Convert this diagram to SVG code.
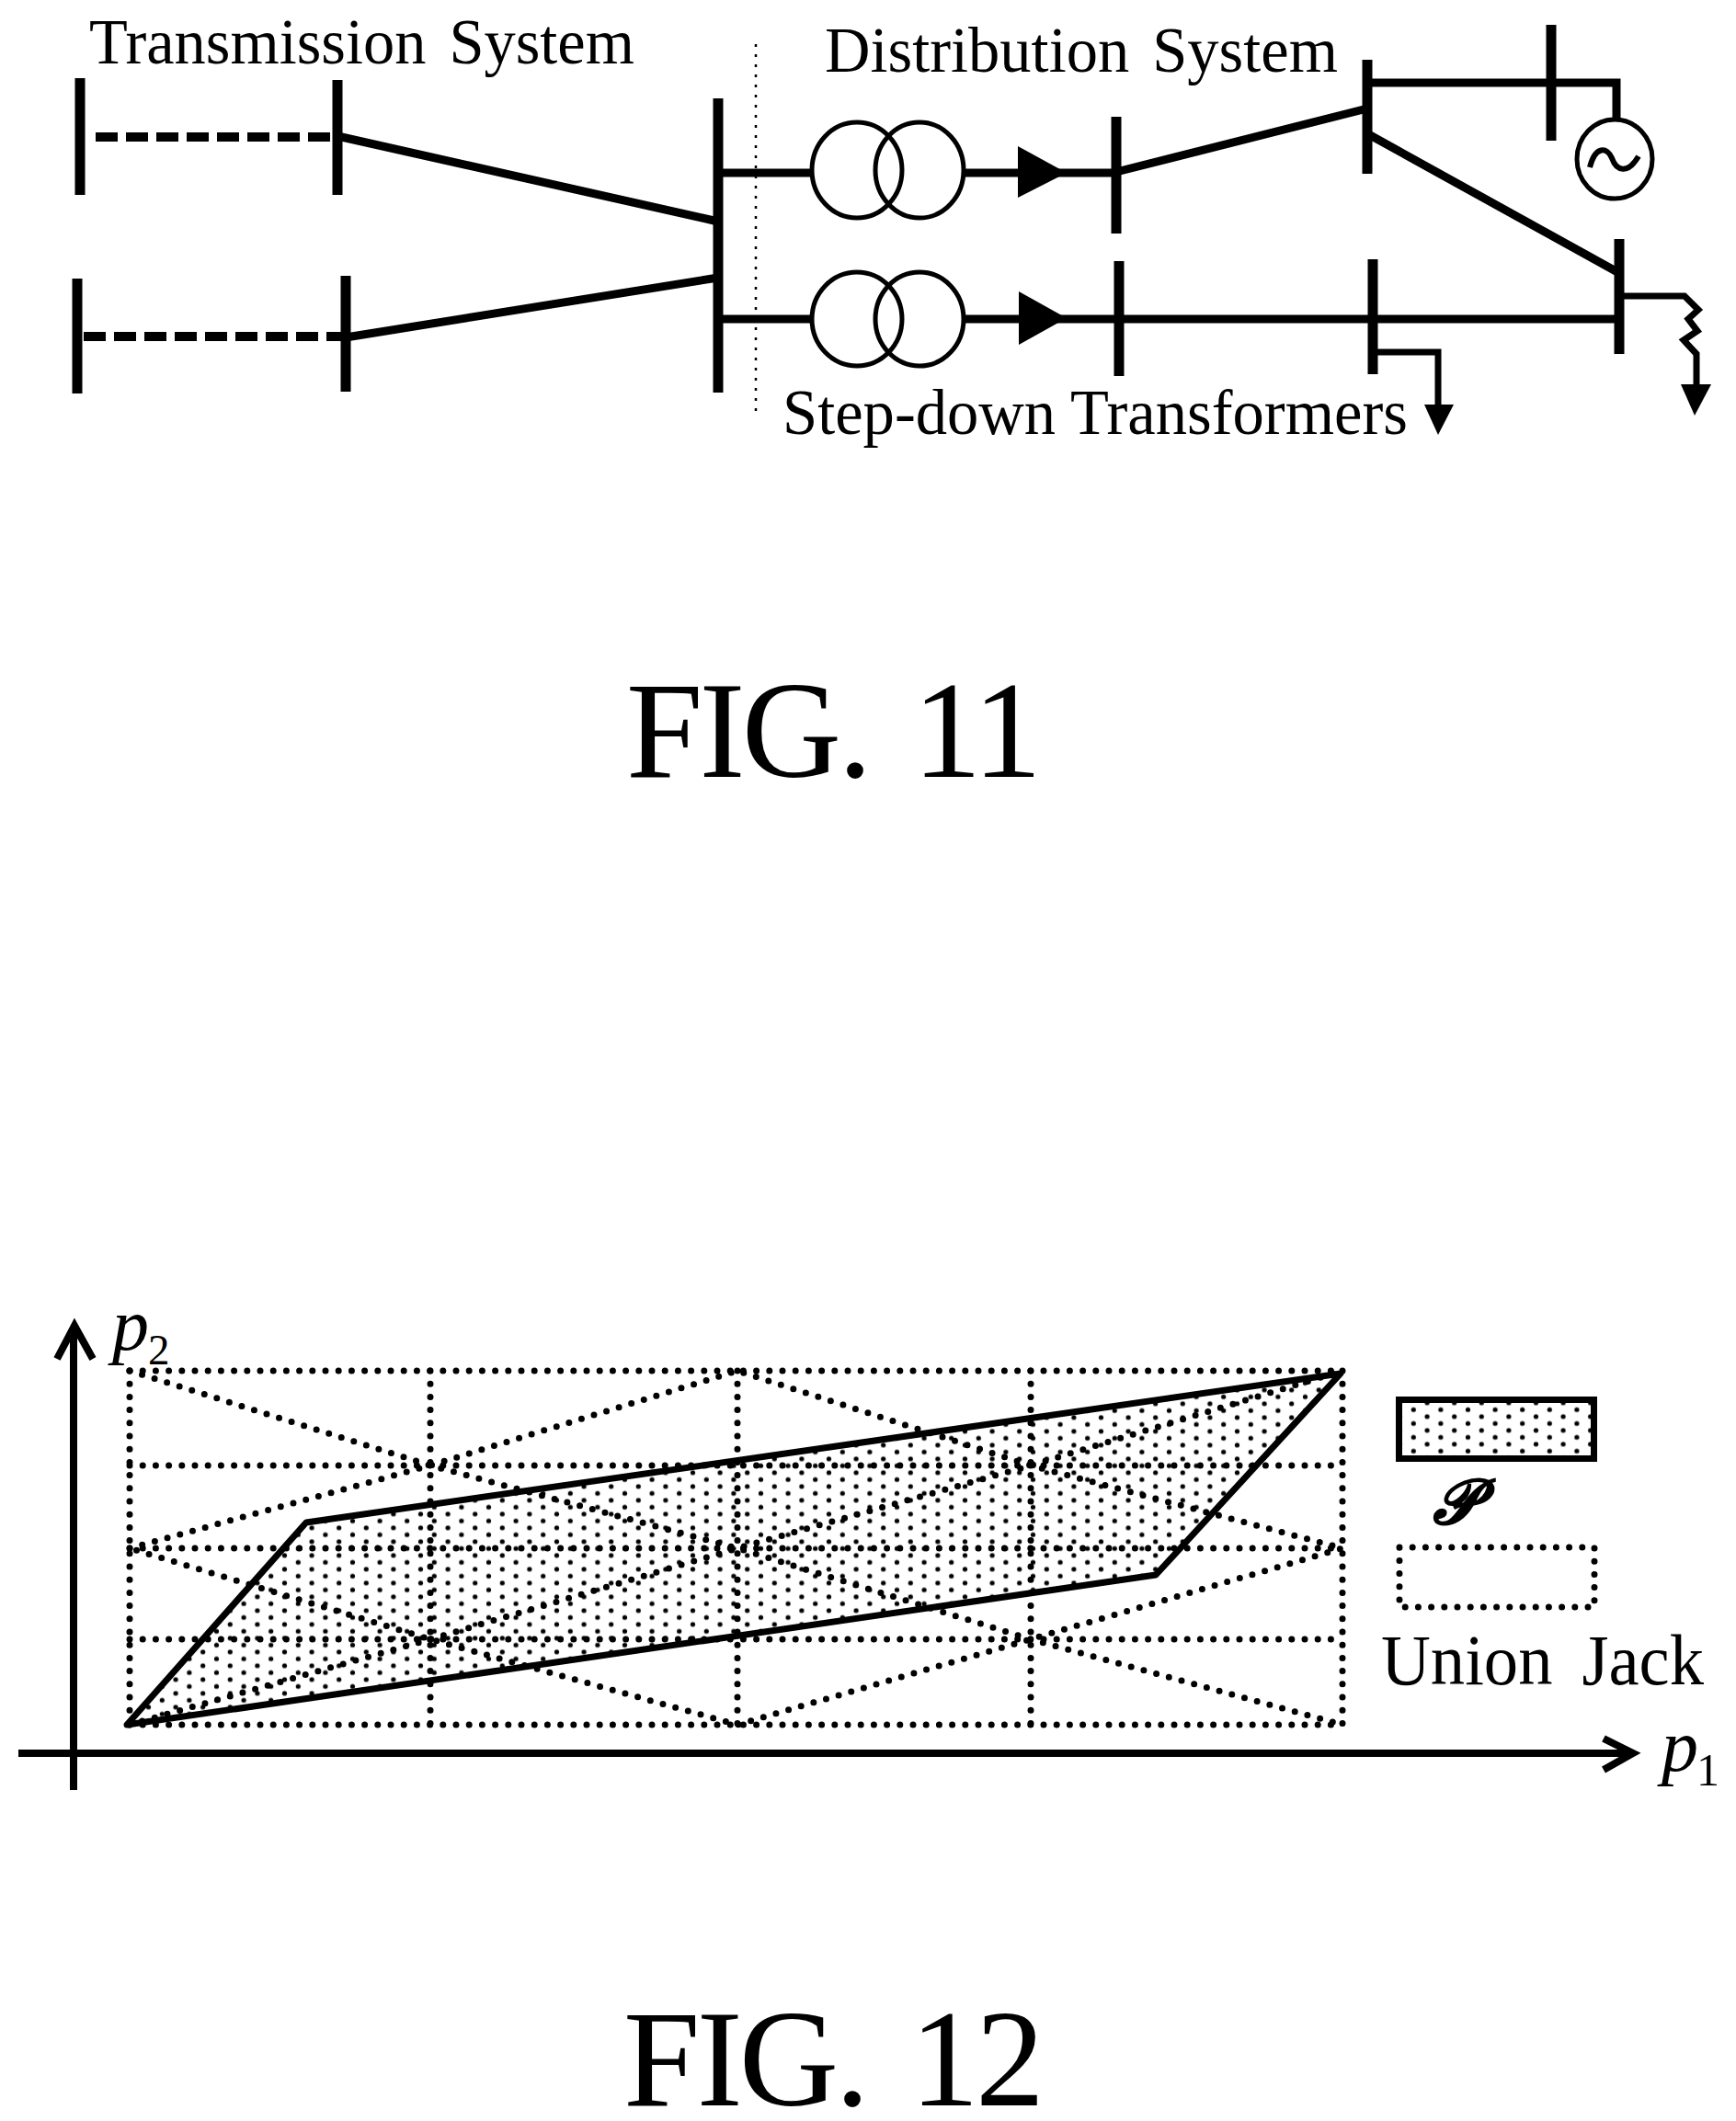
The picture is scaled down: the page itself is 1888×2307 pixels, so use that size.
<svg xmlns="http://www.w3.org/2000/svg" width="1888" height="2307" viewBox="0 0 1888 2307">
<style>
text{fill:#000;font-family:"Liberation Serif","Times New Roman",serif}
.bus{stroke:#000;stroke-width:11;fill:none}
.ln{stroke:#000;stroke-width:9;fill:none}
.wire{stroke:#000;stroke-width:7;fill:none}
.dash{stroke:#000;stroke-width:10;stroke-dasharray:24 9;fill:none}
.coil{stroke:#000;stroke-width:5;fill:none}
.dot{stroke:#000;stroke-width:7;stroke-dasharray:0 14.2;stroke-linecap:round;fill:none}
.axis{stroke:#000;stroke-width:8;fill:none}
.fig{font-size:150px}
.pv{font-size:80px;font-style:italic}
</style>
<defs>
<pattern id="dots" width="29.6" height="15" x="1529.9" y="1529.55" patternUnits="userSpaceOnUse">
<circle cx="7.4" cy="3.75" r="2.6" fill="#000"/>
<circle cx="22.2" cy="11.25" r="2.6" fill="#000"/>
</pattern>
<pattern id="dots-plot" href="#dots" x="1323.3" y="1545.55"/>
</defs>
<rect width="1888" height="2307" fill="#fff"/>

<g id="connectors">
<path class="dash" d="M104 149H367"/>
<path class="dash" d="M91 366H376"/>
<path class="ln" d="M367 148L781 241"/>
<path class="ln" d="M376 367L781 302"/>
<path class="ln" d="M781 188H882M781 347H882"/>
<path class="ln" d="M1048 188H1214M1048 347H1761"/>
<path class="ln" d="M1214 187L1487 118"/>
<path class="ln" d="M1487 90H1758V130"/>
<path class="ln" d="M1490 147L1761 297"/>
<path class="wire" d="M1493 383H1564V445"/>
<path class="wire" d="M1761 322H1832L1847 337L1836 347L1846 360L1831 370L1845 385V422"/>
<path d="M1107 159L1160 188L1107 215Z"/>
<path d="M1108 317L1160 346L1108 375Z"/>
<path d="M1549 440H1581L1564 473Z"/>
<path d="M1828 418H1861L1843 452Z"/>
</g>

<g id="bus-t1"><path class="bus" d="M87 85V212"/></g>
<g id="bus-t2"><path class="bus" d="M367 87V212"/></g>
<g id="bus-t3"><path class="bus" d="M84 303V428"/></g>
<g id="bus-t4"><path class="bus" d="M376 300V426"/></g>
<g id="bus-main"><path class="bus" d="M781 107V427"/></g>
<g id="bus-d1"><path class="bus" d="M1214 127V254"/></g>
<g id="bus-d2"><path class="bus" d="M1217 284V409"/></g>
<g id="bus-d3"><path class="bus" d="M1487 65V189"/></g>
<g id="bus-d4"><path class="bus" d="M1687 27V153"/></g>
<g id="bus-d5"><path class="bus" d="M1493 282V407"/></g>
<g id="bus-d6"><path class="bus" d="M1761 260V385"/></g>

<g id="boundary"><path d="M822 48V453" stroke="#000" stroke-width="2.5" stroke-dasharray="3 8" fill="none"/></g>

<g id="transformer-1"><ellipse class="coil" cx="932" cy="185" rx="49" ry="52"/><ellipse class="coil" cx="1000" cy="185" rx="48" ry="52"/></g>
<g id="transformer-2"><ellipse class="coil" cx="932" cy="347" rx="49" ry="51"/><ellipse class="coil" cx="1000" cy="347" rx="48" ry="51"/></g>

<g id="generator"><ellipse class="coil" cx="1756" cy="173" rx="41" ry="43" fill="#fff"/><path d="M1729 182C1735 158 1748 160 1753 172C1758 186 1770 190 1782 170" fill="none" stroke="#000" stroke-width="6"/></g>

<g id="labels-11">
<text x="97" y="69" font-size="70" word-spacing="8" textLength="593" lengthAdjust="spacingAndGlyphs">Transmission System</text>
<text x="897" y="78" font-size="70" word-spacing="8" textLength="558" lengthAdjust="spacingAndGlyphs">Distribution System</text>
<text x="851" y="472" font-size="70" textLength="680" lengthAdjust="spacingAndGlyphs">Step-down Transformers</text>
<text class="fig" x="681" y="845" word-spacing="14" textLength="452" lengthAdjust="spacing">FIG. 11</text>
</g>

<g id="region-p"><path d="M138 1876L333 1656L1458 1494L1257 1713Z" fill="url(#dots-plot)" stroke="none"/></g>

<g id="union-jack">
<path class="dot" d="M141 1491H1460M141 1594H1460M141 1684H1460M141 1783H1460M141 1876H1460"/>
<path class="dot" d="M141 1491V1876M468 1491V1876M802 1491V1876M1121 1491V1876M1460 1491V1876"/>
<path class="dot" d="M141 1491L468 1594L802 1684L1121 1783L1460 1876"/>
<path class="dot" d="M141 1876L468 1783L802 1684L1121 1594L1460 1491"/>
<path class="dot" d="M141 1684L468 1594L802 1491L1121 1594L1460 1684L1121 1783L802 1876L468 1783Z"/>
</g>

<g id="region-p-outline"><path d="M138 1876L333 1656L1458 1494L1257 1713Z" fill="none" stroke="#000" stroke-width="7" stroke-linejoin="round"/></g>

<g id="axes">
<path class="axis" d="M80 1947V1444"/>
<path class="axis" d="M62 1478L81 1442L101 1478"/>
<path class="axis" d="M20 1907H1774"/>
<path class="axis" d="M1744 1891L1776 1907L1744 1925"/>
<text class="pv" x="122" y="1468">p</text><text x="161" y="1484" font-size="47">2</text>
<text class="pv" x="1807" y="1926">p</text><text x="1845" y="1942" font-size="50">1</text>
</g>

<g id="legend-p">
<rect x="1521.5" y="1522.5" width="212" height="64" fill="url(#dots)" stroke="#000" stroke-width="7"/>
<text x="1558" y="1657" font-size="68" font-weight="bold" font-style="italic">𝓟</text>
</g>
<g id="legend-uj">
<rect class="dot" x="1522" y="1683" width="212" height="65"/>
<text x="1502" y="1832" font-size="78" word-spacing="14" textLength="351" lengthAdjust="spacingAndGlyphs">Union Jack</text>
</g>
<g id="labels-12"><text class="fig" x="678" y="2290" word-spacing="14" textLength="458" lengthAdjust="spacing">FIG. 12</text></g>
</svg>
